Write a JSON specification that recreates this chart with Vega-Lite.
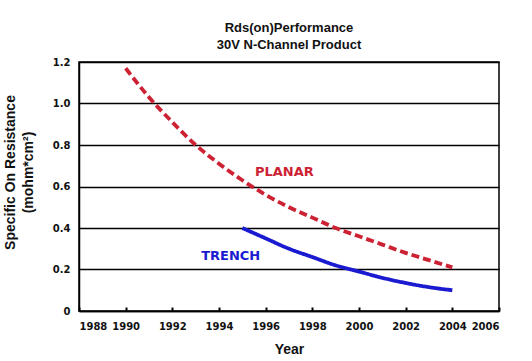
{
  "$schema": "https://vega.github.io/schema/vega-lite/v6.json",
  "width": 420,
  "height": 249,
  "autosize": {"type": "none"},
  "padding": {"left": 79, "top": 62, "right": 33, "bottom": 50},
  "background": "white",
  "title": {
    "text": ["Rds(on)Performance", "30V N-Channel Product"],
    "font": "Liberation Sans",
    "fontSize": 13,
    "fontWeight": "bold",
    "color": "#111111",
    "anchor": "middle",
    "offset": 5,
    "lineHeight": 17
  },
  "config": {
    "view": {"stroke": "#000000", "strokeWidth": 1.5},
    "axis": {
      "labelFont": "DejaVu Sans",
      "labelFontWeight": "bold",
      "labelFontSize": 10,
      "labelColor": "#111111",
      "titleFont": "Liberation Sans",
      "titleFontWeight": "bold",
      "titleColor": "#111111",
      "domainColor": "#000000",
      "tickColor": "#000000"
    }
  },
  "datasets": {
    "lines": [
      {"year": 1990, "value": 1.17, "series": "PLANAR"},
      {"year": 1991, "value": 1.03, "series": "PLANAR"},
      {"year": 1992, "value": 0.91, "series": "PLANAR"},
      {"year": 1993, "value": 0.80, "series": "PLANAR"},
      {"year": 1994, "value": 0.71, "series": "PLANAR"},
      {"year": 1995, "value": 0.63, "series": "PLANAR"},
      {"year": 1996, "value": 0.56, "series": "PLANAR"},
      {"year": 1997, "value": 0.50, "series": "PLANAR"},
      {"year": 1998, "value": 0.45, "series": "PLANAR"},
      {"year": 1999, "value": 0.40, "series": "PLANAR"},
      {"year": 2000, "value": 0.36, "series": "PLANAR"},
      {"year": 2001, "value": 0.32, "series": "PLANAR"},
      {"year": 2002, "value": 0.28, "series": "PLANAR"},
      {"year": 2003, "value": 0.245, "series": "PLANAR"},
      {"year": 2004, "value": 0.21, "series": "PLANAR"},
      {"year": 1995, "value": 0.40, "series": "TRENCH"},
      {"year": 1996, "value": 0.35, "series": "TRENCH"},
      {"year": 1997, "value": 0.30, "series": "TRENCH"},
      {"year": 1998, "value": 0.26, "series": "TRENCH"},
      {"year": 1999, "value": 0.22, "series": "TRENCH"},
      {"year": 2000, "value": 0.19, "series": "TRENCH"},
      {"year": 2001, "value": 0.16, "series": "TRENCH"},
      {"year": 2002, "value": 0.135, "series": "TRENCH"},
      {"year": 2003, "value": 0.115, "series": "TRENCH"},
      {"year": 2004, "value": 0.10, "series": "TRENCH"}
    ],
    "labels": [
      {"year": 1996.8, "value": 0.67, "series": "PLANAR"},
      {"year": 1994.5, "value": 0.265, "series": "TRENCH"}
    ]
  },
  "layer": [
    {
      "data": {"name": "lines"},
      "mark": {"type": "line", "interpolate": "monotone", "strokeWidth": 3.8},
      "encoding": {
        "x": {
          "field": "year", "type": "quantitative",
          "scale": {"domain": [1988, 2006], "nice": false, "zero": false},
          "axis": {
            "values": [1988, 1990, 1992, 1994, 1996, 1998, 2000, 2002, 2004, 2006],
            "format": "d", "grid": false, "tickSize": -4, "tickWidth": 2,
            "labelPadding": 14, "domainWidth": 1.5,
            "title": "Year", "titleFontSize": 14, "titlePadding": 11
          }
        },
        "y": {
          "field": "value", "type": "quantitative",
          "scale": {"domain": [0, 1.2], "nice": false},
          "axis": {
            "values": [0, 0.2, 0.4, 0.6, 0.8, 1.0, 1.2],
            "labelExpr": "datum.value == 0 ? '0' : format(datum.value, '.1f')",
            "grid": true, "gridColor": "#000000", "gridOpacity": 1, "gridWidth": 1.5,
            "ticks": false, "labelPadding": 9, "domainWidth": 1.5,
            "title": ["Specific On Resistance", "(mohm*cm²)"],
            "titleFontSize": 14, "titlePadding": 17, "titleLineHeight": 18,
            "titleY": 110
          }
        },
        "color": {
          "field": "series", "type": "nominal",
          "scale": {"domain": ["PLANAR", "TRENCH"], "range": ["#cc2233", "#1a1ad0"]},
          "legend": null
        },
        "strokeDash": {
          "field": "series", "type": "nominal",
          "scale": {"domain": ["PLANAR", "TRENCH"], "range": [[8, 4], [1, 0]]},
          "legend": null
        }
      }
    },
    {
      "data": {"name": "labels"},
      "mark": {"type": "text", "font": "DejaVu Sans", "fontWeight": "bold", "fontSize": 13, "align": "center", "baseline": "middle"},
      "encoding": {
        "x": {"field": "year", "type": "quantitative"},
        "y": {"field": "value", "type": "quantitative"},
        "text": {"field": "series"},
        "color": {
          "field": "series", "type": "nominal",
          "scale": {"domain": ["PLANAR", "TRENCH"], "range": ["#c8283c", "#2a2a9a"]},
          "legend": null
        }
      }
    }
  ]
}
